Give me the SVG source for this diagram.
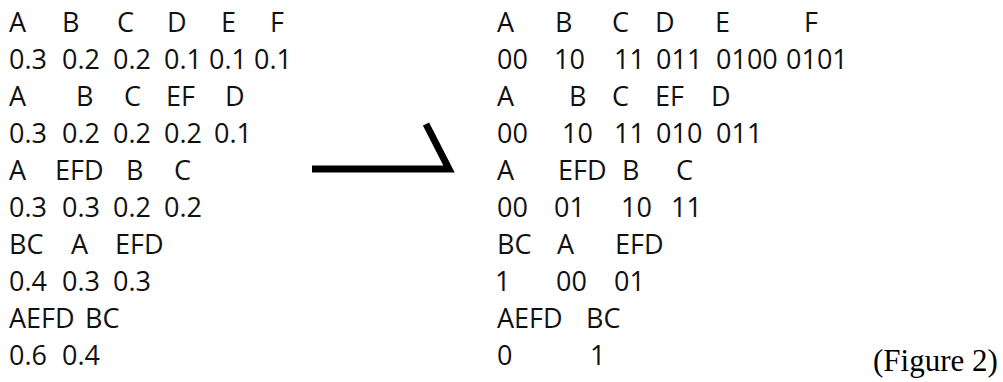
<svg xmlns="http://www.w3.org/2000/svg" width="1003" height="382" viewBox="0 0 1003 382">
<style>
.t{font-family:"Open Sans","Noto Sans",sans-serif;font-size:27px;fill:#111}
.cap{font-family:"Liberation Serif","Times New Roman",serif;font-size:31px;fill:#000}
.arrow{fill:none;stroke:#000;stroke-width:7;stroke-linejoin:miter;stroke-miterlimit:10}
</style>
<rect width="1003" height="382" fill="#fff"/>
<g id="left" class="t">
<text y="32"><tspan x="9">A</tspan><tspan x="62">B</tspan><tspan x="117">C</tspan><tspan x="167">D</tspan><tspan x="221">E</tspan><tspan x="270">F</tspan></text>
<text y="69"><tspan x="9">0.3</tspan><tspan x="62">0.2</tspan><tspan x="113">0.2</tspan><tspan x="164">0.1</tspan><tspan x="209">0.1</tspan><tspan x="254">0.1</tspan></text>
<text y="106"><tspan x="9">A</tspan><tspan x="76">B</tspan><tspan x="124">C</tspan><tspan x="166">EF</tspan><tspan x="225">D</tspan></text>
<text y="143"><tspan x="9">0.3</tspan><tspan x="62">0.2</tspan><tspan x="113">0.2</tspan><tspan x="164">0.2</tspan><tspan x="214">0.1</tspan></text>
<text y="180"><tspan x="9">A</tspan><tspan x="55">EFD</tspan><tspan x="126">B</tspan><tspan x="174">C</tspan></text>
<text y="217"><tspan x="9">0.3</tspan><tspan x="62">0.3</tspan><tspan x="113">0.2</tspan><tspan x="164">0.2</tspan></text>
<text y="254"><tspan x="9">BC</tspan><tspan x="71">A</tspan><tspan x="115">EFD</tspan></text>
<text y="291"><tspan x="9">0.4</tspan><tspan x="62">0.3</tspan><tspan x="113">0.3</tspan></text>
<text y="328"><tspan x="9">AEFD</tspan><tspan x="85">BC</tspan></text>
<text y="365"><tspan x="9">0.6</tspan><tspan x="62">0.4</tspan></text>
</g>
<g id="connectors">
<polyline class="arrow" points="312,169 449,169 426,124"/>
</g>
<g id="right" class="t">
<text y="32"><tspan x="497">A</tspan><tspan x="555">B</tspan><tspan x="612">C</tspan><tspan x="655">D</tspan><tspan x="715">E</tspan><tspan x="804">F</tspan></text>
<text y="69"><tspan x="497">00</tspan><tspan x="554">10</tspan><tspan x="614">11</tspan><tspan x="656">011</tspan><tspan x="716">0100</tspan><tspan x="786">0101</tspan></text>
<text y="106"><tspan x="497">A</tspan><tspan x="569">B</tspan><tspan x="612">C</tspan><tspan x="655">EF</tspan><tspan x="711">D</tspan></text>
<text y="143"><tspan x="497">00</tspan><tspan x="562">10</tspan><tspan x="614">11</tspan><tspan x="656">010</tspan><tspan x="716">011</tspan></text>
<text y="180"><tspan x="497">A</tspan><tspan x="558">EFD</tspan><tspan x="622">B</tspan><tspan x="676">C</tspan></text>
<text y="217"><tspan x="497">00</tspan><tspan x="554">01</tspan><tspan x="621">10</tspan><tspan x="671">11</tspan></text>
<text y="254"><tspan x="497">BC</tspan><tspan x="557">A</tspan><tspan x="615">EFD</tspan></text>
<text y="291"><tspan x="495">1</tspan><tspan x="556">00</tspan><tspan x="614">01</tspan></text>
<text y="328"><tspan x="497">AEFD</tspan><tspan x="586">BC</tspan></text>
<text y="365"><tspan x="497">0</tspan><tspan x="590">1</tspan></text>
</g>
<g id="caption">
<text class="cap" x="873" y="371">(Figure 2)</text>
</g>
</svg>
